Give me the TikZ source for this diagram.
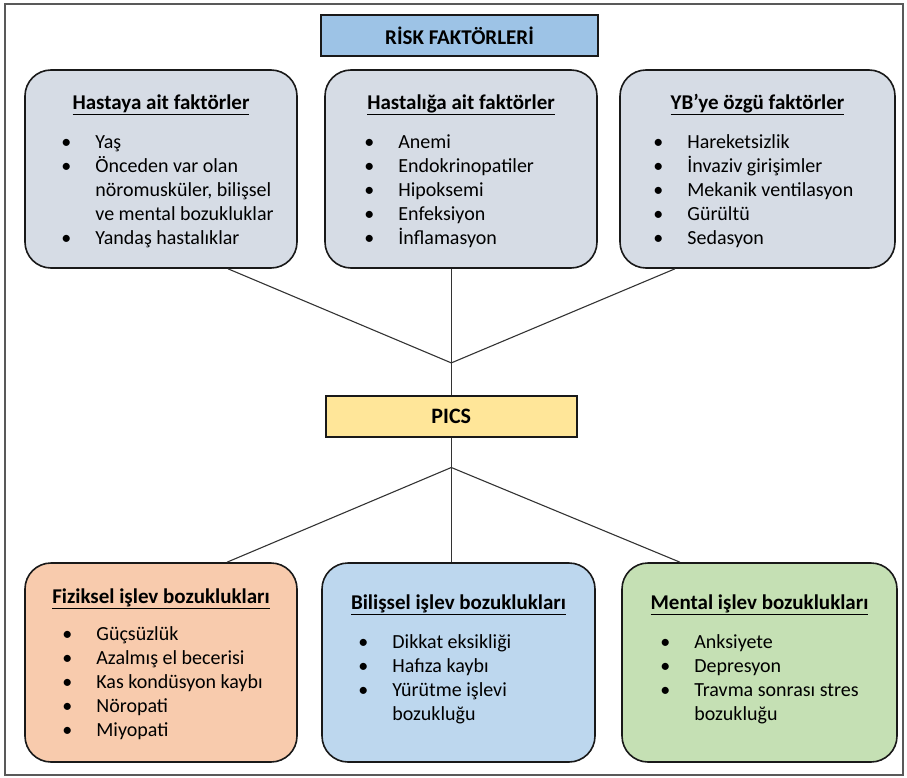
\documentclass[tikz,border=0pt]{standalone}
\usepackage{fontspec}
\setmainfont{Carlito}
\usepackage{xcolor}
\usetikzlibrary{positioning}
\definecolor{riskBlue}{HTML}{9DC3E6}
\definecolor{factorGray}{HTML}{D6DCE5}
\definecolor{picsYellow}{HTML}{FFE699}
\definecolor{physOrange}{HTML}{F8CBAD}
\definecolor{cogBlue}{HTML}{BDD7EE}
\definecolor{mentGreen}{HTML}{C5E0B4}
\newcommand{\blist}[1]{\begin{tabular}[t]{@{}p{34pt}@{}l@{}}#1\end{tabular}}

\begin{document}
\begin{tikzpicture}[
    x=1pt, y=-1pt,
    font=\fontsize{20}{24}\selectfont,
    head/.style={draw=black!90, line width=1.6pt, inner sep=0pt, font=\fontsize{21}{24}\selectfont\bfseries},
    panel/.style={draw=black!90, line width=1.6pt, rounded corners=26pt, minimum height=198pt, inner sep=0pt},
    title/.style={anchor=base, inner sep=0pt, font=\fontsize{21}{24}\selectfont\bfseries},
    items/.style={anchor=base west, inner sep=0pt},
    link/.style={draw=black!80, line width=1.1pt}
  ]
    \useasboundingbox (0,0) rectangle (907,778);
    \draw[black!65, line width=1.5pt] (5,4) rectangle (903,775);

    \node[head, fill=riskBlue, minimum width=277pt, minimum height=41pt] (risk) at (459.5,35.5) {RİSK FAKTÖRLERİ};

    % risk factor panels
    \node[panel, fill=factorGray, minimum width=272pt] (hasta) at (161,169) {};
    \node[title] (hastaT) at ([yshift=-40pt]hasta.north) {\underline{Hastaya ait faktörler}};
    \node[items] (hastaL) at ([xshift=37pt,yshift=-79pt]hasta.north west) {\blist{
      \textbullet & Yaş\\
      \textbullet & Önceden var olan\\
      & nöromusküler, bilişsel\\
      & ve mental bozukluklar\\
      \textbullet & Yandaş hastalıklar}};

    \node[panel, fill=factorGray, minimum width=272pt] (hastalik) at (461,169) {};
    \node[title] (hastalikT) at ([yshift=-40pt]hastalik.north) {\underline{Hastalığa ait faktörler}};
    \node[items] (hastalikL) at ([xshift=40pt,yshift=-79pt]hastalik.north west) {\blist{
      \textbullet & Anemi\\
      \textbullet & Endokrinopatiler\\
      \textbullet & Hipoksemi\\
      \textbullet & Enfeksiyon\\
      \textbullet & İnflamasyon}};

    \node[panel, fill=factorGray, minimum width=275pt] (yb) at (757.5,169) {};
    \node[title] (ybT) at ([yshift=-40pt]yb.north) {\underline{YB’ye özgü faktörler}};
    \node[items] (ybL) at ([xshift=34pt,yshift=-79pt]yb.north west) {\blist{
      \textbullet & Hareketsizlik\\
      \textbullet & İnvaziv girişimler\\
      \textbullet & Mekanik ventilasyon\\
      \textbullet & Gürültü\\
      \textbullet & Sedasyon}};

    \node[head, fill=picsYellow, minimum width=251pt, minimum height=41pt, font=\fontsize{22}{24}\selectfont\bfseries] (pics) at (451.3,416.2) {PICS};
    \coordinate (jtop) at ([yshift=32pt]pics.north);
    \coordinate (jbot) at ([yshift=-30pt]pics.south);

    % PICS panels
    \node[panel, fill=physOrange, minimum width=272pt, minimum height=199pt] (fiz) at (161,662.5) {};
    \node[title] (fizT) at ([yshift=-41pt]fiz.north) {\underline{Fiziksel işlev bozuklukları}};
    \node[items] (fizL) at ([xshift=38pt,yshift=-78pt]fiz.north west) {\blist{
      \textbullet & Güçsüzlük\\
      \textbullet & Azalmış el becerisi\\
      \textbullet & Kas kondüsyon kaybı\\
      \textbullet & Nöropati\\
      \textbullet & Miyopati}};

    \node[panel, fill=cogBlue, minimum width=273pt, minimum height=199pt] (bil) at (458.5,662.5) {};
    \node[title] (bilT) at ([yshift=-47pt]bil.north) {\underline{Bilişsel işlev bozuklukları}};
    \node[items] (bilL) at ([xshift=37pt,yshift=-86pt]bil.north west) {\blist{
      \textbullet & Dikkat eksikliği\\
      \textbullet & Hafıza kaybı\\
      \textbullet & Yürütme işlevi\\
      & bozukluğu}};

    \node[panel, fill=mentGreen, minimum width=275pt, minimum height=199pt] (men) at (759.5,662.5) {};
    \node[title] (menT) at ([yshift=-47pt]men.north) {\underline{Mental işlev bozuklukları}};
    \node[items] (menL) at ([xshift=39pt,yshift=-86pt]men.north west) {\blist{
      \textbullet & Anksiyete\\
      \textbullet & Depresyon\\
      \textbullet & Travma sonrası stres\\
      & bozukluğu}};

    \draw[link] ([xshift=67pt]hasta.south) -- (jtop) -- ([xshift=-82.5pt]yb.south);
    \draw[link] (hastalik.south -| pics.north) -- (pics.north);
    \draw[link] (pics.south) -- (bil.north -| pics.south);
    \draw[link] ([xshift=66pt]fiz.north) -- (jbot) -- ([xshift=-79.5pt]men.north);
  \end{tikzpicture}
\end{document}
